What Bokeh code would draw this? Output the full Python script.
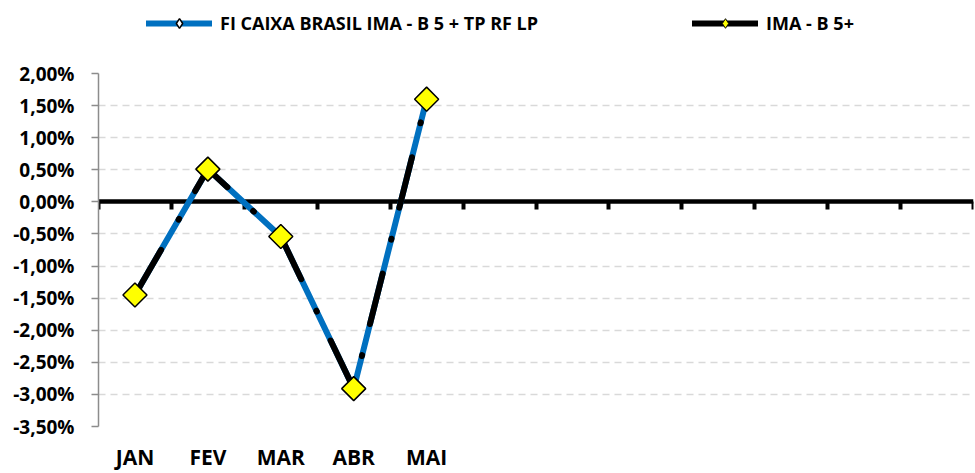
import numpy as np
from bokeh.plotting import figure
from bokeh.layouts import column
from bokeh.models import (Range1d, LinearAxis, FixedTicker, Grid, Legend, LegendItem,
                          CustomJSTickFormatter, ColumnDataSource)
from bokeh.embed import file_html
from bokeh.resources import INLINE

# ---- data ----
months = ["JAN", "FEV", "MAR", "ABR", "MAI"]
n_slots = 12  # one slot per month of the year
fi_caixa = [-1.45, 0.51, -0.54, -2.91, 1.60]
ima_b5 = [-1.45, 0.51, -0.54, -2.91, 1.60]
y_ticks = [-3.5, -3.0, -2.5, -2.0, -1.5, -1.0, -0.5, 0.0, 0.5, 1.0, 1.5, 2.0]
fi_label = "FI CAIXA BRASIL IMA - B 5 + TP RF LP"
ima_label = "IMA - B 5+"

FONT = "Open Sans"
BLUE = "#0070C0"
YELLOW = "#FFFF00"
W = 975
LEG_H = 46
MAIN_H = 473 - LEG_H

src = ColumnDataSource(dict(x=[i + 0.5 for i in range(len(months))], fi=fi_caixa, ima=ima_b5))

# ---------------- main chart ----------------
p = figure(width=W, height=MAIN_H,
           x_range=Range1d(0, n_slots), y_range=Range1d(min(y_ticks), max(y_ticks)),
           x_axis_type=None, y_axis_type=None,
           output_backend="svg", toolbar_location=None,
           min_border_left=98, min_border_right=2, min_border_top=73 - LEG_H, min_border_bottom=43)
p.outline_line_color = None
p.background_fill_color = "white"
p.border_fill_color = "white"

yaxis = LinearAxis(ticker=FixedTicker(ticks=y_ticks),
                   formatter=CustomJSTickFormatter(code="return tick.toFixed(2).replace('.', ',') + '%';"),
                   axis_line_color="#8c8c8c", axis_line_width=1.5,
                   major_tick_line_color="#8c8c8c", major_tick_line_width=1.5,
                   major_tick_out=7, major_tick_in=0, minor_tick_line_color=None,
                   major_label_standoff=17,
                   major_label_text_font=FONT, major_label_text_font_style="bold",
                   major_label_text_font_size="19px", major_label_text_color="black")
p.add_layout(yaxis, "left")

grid = Grid(dimension=1, ticker=FixedTicker(ticks=[t for t in y_ticks if t != 0]),
            grid_line_color="#d9d9d9", grid_line_width=1.5, grid_line_dash="7 5")
p.add_layout(grid)

zero_axis = LinearAxis(fixed_location=0, ticker=FixedTicker(ticks=list(range(n_slots + 1))),
                       formatter=CustomJSTickFormatter(code="return '';"),
                       major_label_text_font_size="0px",
                       axis_line_color="black", axis_line_width=4.5,
                       major_tick_line_color="black", major_tick_line_width=4,
                       major_tick_out=8, major_tick_in=0, minor_tick_line_color=None,
                       level="underlay")
p.add_layout(zero_axis, "below")

label_axis = LinearAxis(ticker=FixedTicker(ticks=[i + 0.5 for i in range(len(months))]),
                        formatter=CustomJSTickFormatter(args=dict(labels=months),
                                                        code="const i = Math.floor(tick); return i < labels.length ? labels[i] : '';"),
                        axis_line_color=None, major_tick_line_color=None, minor_tick_line_color=None,
                        major_tick_out=0, major_tick_in=0,
                        major_label_standoff=16,
                        major_label_text_font=FONT, major_label_text_font_style="bold",
                        major_label_text_font_size="21px", major_label_text_color="black")
p.add_layout(label_axis, "below")

p.line("x", "fi", source=src, line_color=BLUE, line_width=6,
       line_cap="round", line_join="round")
p.line("x", "ima", source=src, line_color="black", line_width=6,
       line_dash="52 35 1 32", line_cap="round", line_join="round")
p.scatter("x", "ima", source=src, marker="square", angle=np.pi / 4, size=17,
          fill_color=YELLOW, line_color="black", line_width=1.5)

# ---------------- legend strip ----------------
# the series are drawn again here, but the ranges keep them out of view;
# only their legend glyphs are shown
lg = figure(width=W, height=LEG_H, x_range=Range1d(100, 101), y_range=Range1d(100, 101),
            x_axis_type=None, y_axis_type=None, output_backend="svg", toolbar_location=None,
            min_border=0)
lg.outline_line_color = None
lg.grid.visible = False
fi_ln = lg.line("x", "fi", source=src, line_color=BLUE, line_width=6, line_cap="round")
fi_mk = lg.scatter("x", "fi", source=src, marker="diamond", fill_color="white",
                   line_color="black", line_width=1.5)
ima_ln = lg.line("x", "ima", source=src, line_color="black", line_width=6, line_cap="round")
ima_mk = lg.scatter("x", "ima", source=src, marker="diamond", fill_color=YELLOW,
                    line_color="black", line_width=1)

legend = Legend(items=[LegendItem(label=fi_label, renderers=[fi_ln, fi_mk]),
                       LegendItem(label=ima_label, renderers=[ima_ln, ima_mk])],
                orientation="horizontal", location=(48, 11),
                glyph_width=66, glyph_height=24, label_standoff=8, spacing=154,
                padding=0, margin=0,
                label_text_font=FONT, label_text_font_style="bold",
                label_text_font_size="18px", label_text_color="black",
                background_fill_alpha=0, border_line_color=None)
lg.add_layout(legend)

layout = column(lg, p, spacing=0)
open("out.html", "w").write(file_html(layout, INLINE))
